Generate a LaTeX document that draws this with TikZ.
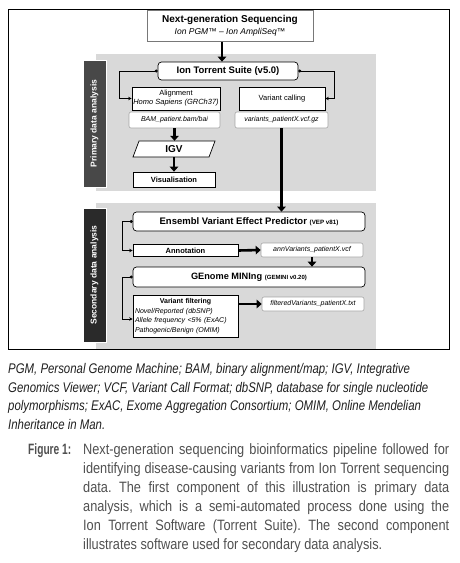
\documentclass[tikz,border=0pt]{standalone}
\usepackage{fontspec}
\setmainfont{Liberation Sans}
\newfontfamily\abbrfont[FakeStretch=0.815]{Liberation Sans}
\newfontfamily\capfont[FakeStretch=0.85]{Liberation Sans}
\usetikzlibrary{arrows.meta}
\frenchspacing
\definecolor{panel}{RGB}{217,217,217}
\definecolor{labA}{RGB}{72,72,72}
\definecolor{labB}{RGB}{42,42,42}
\definecolor{filebd}{RGB}{165,165,165}
\definecolor{ngsbd}{RGB}{120,120,120}
\definecolor{captxt}{RGB}{80,80,80}
\tikzset{
  procbox/.style={draw=black,fill=white,line width=0.7pt,inner sep=0pt,align=center},
  roundbox/.style={procbox,rounded corners=3.5pt},
  filebox/.style={draw=filebd,fill=white,line width=0.6pt,rounded corners=2pt,inner sep=0pt,
    font=\fontsize{7}{8}\selectfont\itshape},
  thickarrow/.style={line width=2.6pt,-{Triangle[length=5pt,width=8.5pt]}},
  thinarrow/.style={line width=0.6pt,{Circle[length=3pt]}-{Stealth[length=3.5pt,width=3.5pt]}},
  labbox/.style={draw=white,line width=0.6pt,text=white,inner sep=0pt,rotate=90,
    font=\fontsize{8.5}{10}\selectfont\bfseries},
  abbr/.style={anchor=base west,inner sep=0pt,text=black!88,font=\fontsize{14}{16}\abbrfont\itshape\frenchspacing},
  capline/.style={anchor=base west,inner sep=0pt,text=captxt,font=\fontsize{15}{19}\capfont\frenchspacing},
}
\begin{document}
\begin{tikzpicture}[x=1pt,y=-1pt]
\useasboundingbox (0,0) rectangle (460,563);
% panels
\fill[panel] (96,54) rectangle (376,191);
\fill[panel] (96,203) rectangle (376,349);
\node[labbox,fill=labA,minimum width=127,minimum height=23] (plab) at (94.5,123.5) {Primary data analysis};
\node[labbox,fill=labB,minimum width=134,minimum height=23] (slab) at (94.5,275) {Secondary data analysis};
% frame
\draw[line width=0.8pt] (8,9) rectangle (449,349);
% nodes
\node[procbox,draw=ngsbd,line width=0.9pt,minimum width=166,minimum height=31] (ngs) at (230,26)
  {{\fontsize{10}{11.5}\selectfont\bfseries Next-generation Sequencing}\\{\fontsize{8.5}{10}\selectfont\itshape Ion PGM™ – Ion AmpliSeq™}};
\node[roundbox,minimum width=140,minimum height=18,font=\fontsize{9.5}{11}\selectfont\bfseries] (its) at (228,71) {Ion Torrent Suite (v5.0)};
\node[procbox,minimum width=88,minimum height=23,font=\fontsize{7.5}{9}\selectfont] (align) at (176,98.5) {Alignment\\\textit{Homo Sapiens (GRCh37)}};
\node[filebox,minimum width=91,minimum height=16] (bam) at (174.5,120) {BAM\_patient.bam/bai};
\node[procbox,minimum width=86,minimum height=23,font=\fontsize{7.5}{9}\selectfont] (vc) at (282,98.5) {Variant calling};
\node[filebox,minimum width=93,minimum height=16] (vcf) at (281.5,120) {variants\_patientX.vcf.gz};
\filldraw[fill=white,line width=0.7pt] (139,141) -- (215,141) -- (209,157) -- (133,157) -- cycle;
\node[inner sep=0pt,minimum width=82,minimum height=16,font=\fontsize{10}{12}\selectfont\bfseries] (igv) at (174,149) {IGV};
\node[procbox,minimum width=82,minimum height=15,font=\fontsize{7.5}{9}\selectfont\bfseries] (vis) at (174,179.5) {Visualisation};
\node[roundbox,minimum width=232,minimum height=19] (vep) at (249,221.5)
  {{\fontsize{9.5}{11}\selectfont\bfseries Ensembl Variant Effect Predictor} {\fontsize{6.2}{7}\selectfont\bfseries (VEP v81)}};
\node[procbox,minimum width=105,minimum height=12,font=\fontsize{7.5}{9}\selectfont\bfseries] (ann) at (185.5,250.5) {Annotation};
\node[filebox,minimum width=102,minimum height=14] (annv) at (312,250) {annVariants\_patientX.vcf};
\node[roundbox,minimum width=232,minimum height=20] (gem) at (249,277)
  {{\fontsize{9.2}{11}\selectfont\bfseries GEnome MINIng} {\fontsize{6}{7}\selectfont\bfseries (GEMINI v0.20)}};
\node[procbox,minimum width=105,minimum height=42,text width=101pt,align=left,font=\fontsize{7}{9.5}\selectfont] (vf) at (185.5,316)
  {\makebox[101pt]{\bfseries Variant filtering}\\\textit{Novel/Reported (dbSNP)}\\\textit{Allele frequency <5\% (ExAC)}\\\textit{Pathogenic/Benign (OMIM)}};
\node[filebox,minimum width=102,minimum height=14] (fv) at (313,304) {filteredVariants\_patientX.txt};
% connectors
\draw[thickarrow] ([xshift=-8pt]ngs.south) -- ([xshift=-8pt]ngs.south |- its.north);
\draw[thinarrow] (its.west) -- ++(-38,0) |- (align.west);
\draw[thinarrow] (its.east) -- ++(36,0) |- (vc.east);
\draw[thickarrow] (bam.south) -- (bam.south |- igv.north);
\draw[thickarrow] (igv.south) -- (igv.south |- vis.north);
\draw[thickarrow] (vcf.south) -- (vcf.south |- vep.north);
\draw[thinarrow] (vep.west) -- ++(-10,0) |- (ann.west);
\draw[thickarrow] (ann.east) -- (annv.west);
\draw[thickarrow] (annv.south) -- (annv.south |- gem.north);
\draw[thinarrow] (gem.west) -- ++(-10,0) |- ([yshift=-3pt]vf.west);
\draw[thickarrow] (vf.east |- fv.west) -- (fv.west);
% abbreviations
\node[abbr] (ab1) at (8,373) {PGM, Personal Genome Machine; BAM, binary alignment/map; IGV, Integrative};
\node[abbr] (ab2) at (8,392) {Genomics Viewer; VCF, Variant Call Format; dbSNP, database for single nucleotide};
\node[abbr] (ab3) at (8,410.5) {polymorphisms; ExAC, Exome Aggregation Consortium; OMIM, Online Mendelian};
\node[abbr] (ab4) at (8,429) {Inheritance in Man.};
% caption
\node[capline,font=\fontsize{15}{19}\capfont\bfseries] (fig) at (28,454) {\scalebox{0.8}[1]{Figure 1:}};
\node[capline] (c1) at (83,454) {\makebox[366pt][s]{Next-generation sequencing bioinformatics pipeline followed for}};
\node[capline] (c2) at (83,473) {\makebox[366pt][s]{identifying disease-causing variants from Ion Torrent sequencing}};
\node[capline] (c3) at (83,492) {\makebox[366pt][s]{data. The first component of this illustration is primary data}};
\node[capline] (c4) at (83,511) {\makebox[366pt][s]{analysis, which is a semi-automated process done using the}};
\node[capline] (c5) at (83,530) {\makebox[366pt][s]{Ion Torrent Software (Torrent Suite). The second component}};
\node[capline] (c6) at (83,549) {illustrates software used for secondary data analysis.};
\end{tikzpicture}
\end{document}
